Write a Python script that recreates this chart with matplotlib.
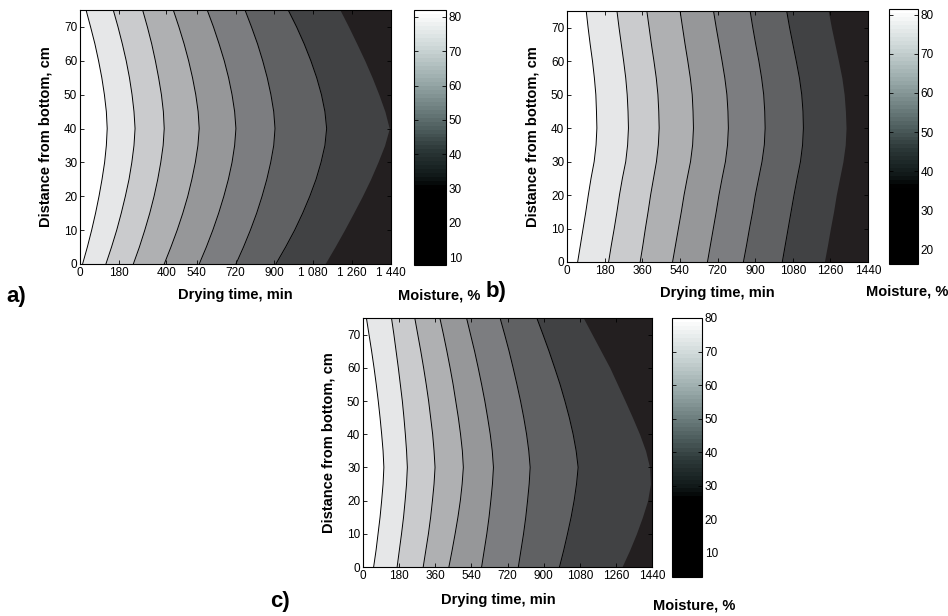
"""Moisture contour maps (drying time vs. height) for three drying runs."""

import matplotlib

matplotlib.use("Agg")
import matplotlib.pyplot as plt
import numpy as np
from matplotlib.cm import ScalarMappable
from matplotlib.colors import LinearSegmentedColormap, Normalize

plt.rcParams["font.family"] = ["Liberation Sans", "DejaVu Sans"]

heights_a = [0, 5, 10, 15, 20, 25, 30, 35, 40, 45, 50, 55, 60, 65, 70, 75]
heights_b = [0, 5, 10, 15, 20, 25, 30, 35, 40, 45, 50, 55, 60, 65, 70, 75]
heights_c = [0, 5, 10, 15, 20, 25, 30, 35, 40, 45, 50, 55, 60, 65, 70, 75]

# drying time (min) of each iso-moisture line, listed from wettest to driest
lines_a = [
    [12, 34, 54, 72, 88, 102, 114, 122, 126, 122, 113, 101, 86, 69, 49, 28],
    [120, 146, 170, 191, 210, 227, 240, 250, 255, 250, 241, 229, 214, 196, 176, 154],
    [247, 275, 300, 323, 343, 360, 374, 385, 390, 386, 377, 364, 349, 332, 312, 290],
    [390, 421, 450, 476, 499, 518, 534, 546, 552, 547, 536, 521, 503, 482, 458, 432],
    [552, 585, 615, 642, 666, 687, 704, 716, 722, 716, 704, 688, 668, 644, 618, 589],
    [722, 757, 789, 818, 843, 865, 883, 897, 903, 897, 884, 867, 846, 822, 794, 764],
    [907, 952, 994, 1031, 1064, 1093, 1116, 1134, 1142, 1134, 1118, 1096, 1069, 1038, 1003, 964],
    [1134, 1180, 1224, 1266, 1307, 1345, 1379, 1410, 1432, 1412, 1384, 1353, 1319, 1282, 1244, 1204],
]
lines_b = [
    [51, 64, 77, 90, 102, 115, 130, 139, 143, 141, 138, 131, 122, 111, 101, 92],
    [199, 212, 226, 239, 251, 265, 281, 290, 294, 292, 288, 281, 271, 260, 249, 239],
    [350, 363, 375, 388, 400, 414, 428, 437, 441, 439, 435, 427, 416, 404, 393, 382],
    [505, 519, 533, 547, 560, 575, 591, 601, 605, 603, 599, 590, 578, 565, 553, 541],
    [672, 686, 700, 714, 727, 742, 758, 768, 772, 770, 765, 755, 742, 728, 714, 701],
    [844, 859, 873, 888, 901, 917, 933, 944, 948, 946, 941, 931, 918, 903, 889, 876],
    [1030, 1044, 1058, 1072, 1086, 1101, 1117, 1127, 1131, 1129, 1123, 1112, 1097, 1081, 1065, 1051],
    [1231, 1246, 1260, 1275, 1288, 1304, 1320, 1331, 1335, 1332, 1326, 1315, 1299, 1282, 1265, 1250],
]
lines_c = [
    [53, 65, 75, 85, 93, 100, 104, 100, 93, 85, 76, 66, 55, 43, 30, 17],
    [170, 181, 192, 202, 210, 217, 221, 217, 211, 204, 196, 186, 176, 165, 154, 142],
    [300, 313, 326, 337, 346, 354, 359, 354, 347, 337, 327, 315, 302, 288, 273, 258],
    [428, 444, 459, 473, 485, 494, 500, 495, 486, 475, 462, 449, 434, 418, 401, 383],
    [591, 604, 617, 628, 637, 645, 650, 644, 634, 621, 607, 591, 574, 556, 536, 516],
    [774, 787, 800, 811, 820, 828, 833, 826, 815, 801, 785, 767, 748, 728, 706, 683],
    [979, 1000, 1019, 1037, 1052, 1064, 1072, 1062, 1047, 1028, 1006, 982, 955, 927, 897, 866],
    [1290, 1328, 1362, 1392, 1418, 1432, 1428, 1408, 1378, 1343, 1306, 1268, 1230, 1186, 1142, 1098],
]

xticks_a = [0, 180, 400, 540, 720, 900, 1080, 1260, 1440]
xticklabels_a = ["0", "180", "400", "540", "720", "900", "1 080", "1 260", "1 440"]
xticks_bc = [0, 180, 360, 540, 720, 900, 1080, 1260, 1440]
yticks = [0, 10, 20, 30, 40, 50, 60, 70]

# colour bar ranges (% moisture)
cbar_range_a = (7.7, 82.0)
cbar_range_b = (16.2, 81.5)
cbar_range_c = (2.8, 80.0)
cbar_ticks = [10, 20, 30, 40, 50, 60, 70, 80]

BAND_COLORS = ["#ffffff", "#e6e7e8", "#cacbcd", "#afb0b2", "#969799",
               "#7c7d80", "#606163", "#414244", "#231f20"]

CMAP = LinearSegmentedColormap.from_list(
    "moist",
    [(0.0, "#000000"), (0.30, "#000000"), (0.34, "#0e1616"),
     (0.45, "#2c3838"), (0.58, "#5f7070"), (0.72, "#97a8a8"),
     (0.86, "#cdd7d7"), (1.0, "#ffffff")],
    N=64,
)

W, H = 948, 616


def px_axes(fig, left, top, right, bottom):
    return fig.add_axes([left / W, 1 - bottom / H, (right - left) / W, (bottom - top) / H])


def draw_panel(ax, heights, lines, xticks, xticklabels):
    h = np.asarray(heights, dtype=float)
    ax.fill_betweenx(h, 0, 1440, color=BAND_COLORS[0], lw=0)
    for i, line in enumerate(lines):
        ax.fill_betweenx(h, line, 1440, color=BAND_COLORS[i + 1], lw=0)
    for line in lines[:-1]:
        ax.plot(line, h, color="black", lw=0.7)

    ax.set_xlim(0, 1440)
    ax.set_ylim(0, 75)
    ax.set_xticks(xticks)
    ax.set_xticklabels(xticklabels)
    ax.set_yticks(yticks)
    ax.tick_params(direction="in", top=True, right=True, length=3,
                   width=0.6, labelsize=8.5, pad=2)
    for s in ax.spines.values():
        s.set_linewidth(0.8)
    ax.set_xlabel("Drying time, min", fontsize=10.5, fontweight="bold", labelpad=7)
    ax.set_ylabel("Distance from bottom, cm", fontsize=10.5, fontweight="bold", labelpad=8)


def draw_cbar(fig, cax, vrange):
    sm = ScalarMappable(norm=Normalize(*vrange), cmap=CMAP)
    cb = fig.colorbar(sm, cax=cax)
    cb.set_ticks([t for t in cbar_ticks if vrange[0] <= t <= vrange[1]])
    cb.outline.set_linewidth(0.8)
    cax.tick_params(direction="in", left=True, right=True, length=3,
                    width=0.6, labelsize=8.5, pad=2)


fig = plt.figure(figsize=(W / 100, H / 100), dpi=100)

ax_a = px_axes(fig, 80, 10, 391, 264)
draw_panel(ax_a, heights_a, lines_a, xticks_a, xticklabels_a)
draw_cbar(fig, px_axes(fig, 414, 10, 446, 265), cbar_range_a)

ax_b = px_axes(fig, 567, 11, 868, 262)
draw_panel(ax_b, heights_b, lines_b, xticks_bc, [str(t) for t in xticks_bc])
draw_cbar(fig, px_axes(fig, 889, 9, 918, 264), cbar_range_b)

ax_c = px_axes(fig, 363, 318, 652, 567)
draw_panel(ax_c, heights_c, lines_c, xticks_bc, [str(t) for t in xticks_bc])
ax_c.xaxis.set_label_coords(0.467, -0.105)
draw_cbar(fig, px_axes(fig, 672, 318, 702, 577), cbar_range_c)

label_kw = dict(fontsize=10.5, fontweight="bold", ha="center", va="center")
fig.text(439 / W, 1 - 295 / H, "Moisture, %", **label_kw)
fig.text(907 / W, 1 - 292 / H, "Moisture, %", **label_kw)
fig.text(694 / W, 1 - 605 / H, "Moisture, %", **label_kw)

panel_kw = dict(fontsize=16, fontweight="bold", ha="left", va="center")
fig.text(6 / W, 1 - 296 / H, "a)", **panel_kw)
fig.text(486 / W, 1 - 292 / H, "b)", **panel_kw)
fig.text(270 / W, 1 - 602 / H, "c)", **panel_kw)

fig.savefig("out.png", dpi=100)
